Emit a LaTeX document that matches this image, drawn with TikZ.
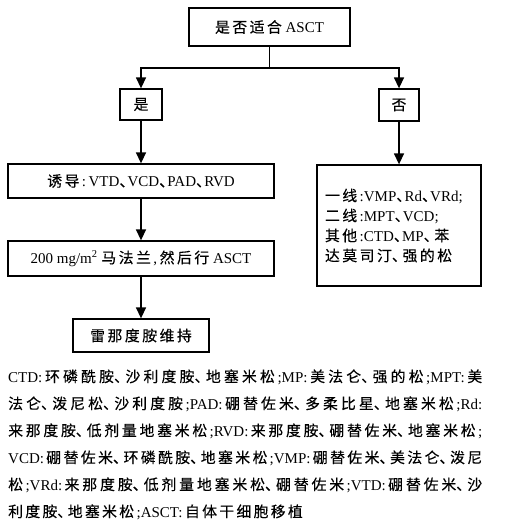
\documentclass[tikz,border=0pt]{standalone}
\usepackage{fontspec}
\setmainfont{Liberation Serif}
\newfontfamily\cjk[Scale=0.99,FakeBold=0.3]{Noto Sans CJK SC}
\usetikzlibrary{arrows.meta}
\XeTeXinterchartokenstate=1
\newXeTeXintercharclass\cjkclass
\newXeTeXintercharclass\cjkpunct
\newcount\cjkc
\cjkc="4E00
\loop
  \XeTeXcharclass\cjkc=\cjkclass
  \advance\cjkc by 1
\ifnum\cjkc<"A000 \repeat
\XeTeXcharclass"3001=\cjkpunct
\newskip\cjkskip \cjkskip=2.5pt
\newskip\latskip \latskip=2.5pt
\newskip\punskip \punskip=0pt
\XeTeXinterchartoks 0 \cjkclass={\hskip\latskip\cjk}
\XeTeXinterchartoks 4095 \cjkclass={\cjk}
\XeTeXinterchartoks \cjkclass 0={\hskip\latskip\normalfont}
\XeTeXinterchartoks \cjkclass 4095={\normalfont}
\XeTeXinterchartoks \cjkclass \cjkclass={\hskip\cjkskip}
\XeTeXinterchartoks \cjkclass \cjkpunct={\hskip\punskip}
\XeTeXinterchartoks \cjkpunct \cjkclass={\kern-.45em\hskip\cjkskip}
\XeTeXinterchartoks \cjkpunct 0={\kern-.45em\hskip\punskip\normalfont}
\XeTeXinterchartoks \cjkpunct 4095={\kern-.45em\normalfont}
\XeTeXinterchartoks 0 \cjkpunct={\cjk}
\XeTeXinterchartoks 4095 \cjkpunct={\cjk}
\newcommand\boxfont{\fontsize{15}{20}\selectfont}
\newcommand\jline[1]{{\cjkskip=3pt plus 1fil minus 2.5pt\latskip=2.5pt plus 1fil minus 1pt\punskip=0pt plus 1fil\makebox[474pt][s]{#1}}}
\newcommand\lline[1]{{\cjkskip=2.3pt\relax #1}}
\begin{document}
\begin{tikzpicture}[x=1pt,y=-1pt,
  box/.style={draw, line width=1.3pt, inner sep=0pt, align=center, font=\boxfont},
  arr/.style={line width=1.4pt, -{Triangle[length=11pt,width=10pt]}},
  ln/.style={line width=1.4pt},
  note/.style={anchor=base west, inner sep=0pt, font=\boxfont}]
\useasboundingbox (0,0) rectangle (521,529);
\node[box, line width=1.8pt, minimum width=161pt, minimum height=38pt] (top) at (269.5,27) {是否适合 ASCT};
\node[box, minimum width=42pt, minimum height=31pt] (yes) at (141,104.5) {是};
\node[box, minimum width=40pt, minimum height=32pt] (no) at (399,105) {否};
\node[box, minimum width=266pt, minimum height=34pt] (ind) at (141,181) {诱导:\,VTD、VCD、PAD、RVD};
\node[box, minimum width=266pt, minimum height=35pt] (mel) at (141,258.5) {200 mg/m\textsuperscript{2} 马法兰,然后行 ASCT};
\node[box, minimum width=136pt, minimum height=33pt] (mnt) at (141,335.5) {雷那度胺维持};
\node[box, minimum width=164pt, minimum height=121pt, text width=148pt, align=left] (oth) at (399,225.5)
  {一线:VMP、Rd、VRd;\\二线:MPT、VCD;\\其他:CTD、MP、苯\\达莫司汀、强的松};
\coordinate (split) at (269.5,68);
\draw[ln] (top.south) -- (split);
\draw[arr] (split) -| (yes.north);
\draw[arr] (split) -| (no.north);
\draw[arr] (yes.south) -- (ind.north);
\draw[arr] (ind.south) -- (mel.north);
\draw[arr] (mel.south) -- (mnt.north);
\draw[arr] (no.south) -- (oth.north);
\node[note] (n1) at (8,382) {\jline{CTD:环磷酰胺、沙利度胺、地塞米松;MP:美法仑、强的松;MPT:美}};
\node[note] (n2) at (8,409) {\jline{法仑、泼尼松、沙利度胺;PAD:硼替佐米、多柔比星、地塞米松;Rd:}};
\node[note] (n3) at (8,436) {\jline{来那度胺、低剂量地塞米松;RVD:来那度胺、硼替佐米、地塞米松;}};
\node[note] (n4) at (8,463) {\jline{VCD:硼替佐米、环磷酰胺、地塞米松;VMP:硼替佐米、美法仑、泼尼}};
\node[note] (n5) at (8,490) {\jline{松;VRd:来那度胺、低剂量地塞米松、硼替佐米;VTD:硼替佐米、沙}};
\node[note] (n6) at (8,517) {\lline{利度胺、地塞米松;ASCT:自体干细胞移植}};
\end{tikzpicture}
\end{document}
